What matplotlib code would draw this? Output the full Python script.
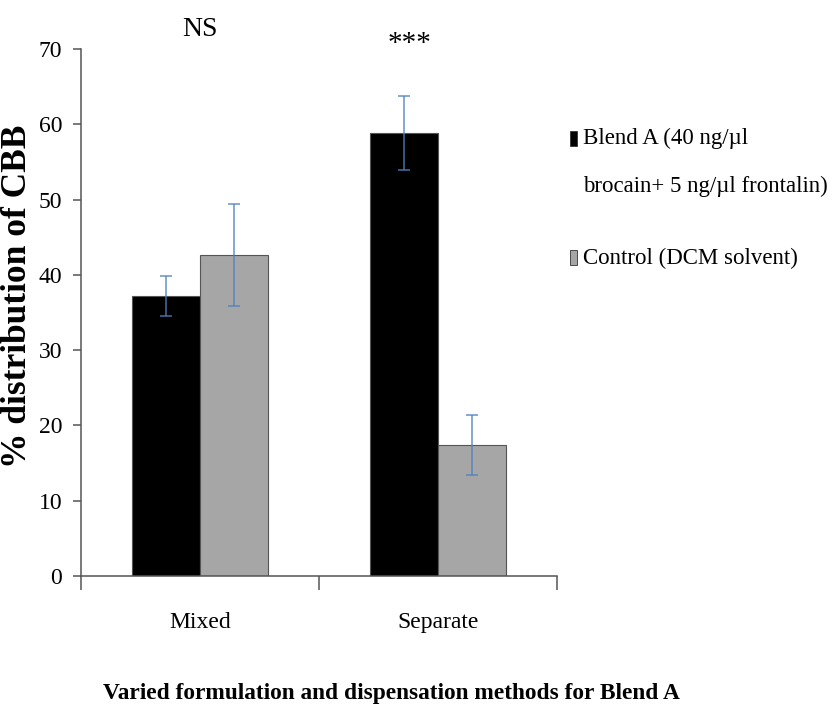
import numpy as np
import matplotlib
matplotlib.use('Agg')
import matplotlib.pyplot as plt
from matplotlib.patches import Rectangle

# CBB distribution per formulation / dispensation method
methods = ['Mixed', 'Separate']
blend_a = [37.2, 58.8]
blend_a_err = [2.6, 4.9]
control = [42.6, 17.4]
control_err = [6.8, 4.0]
signif = ['NS', '***']
yticks = [0, 10, 20, 30, 40, 50, 60, 70]

plt.rcParams['font.family'] = ['Liberation Serif', 'DejaVu Serif']

W, H = 835, 713
fig = plt.figure(figsize=(W / 100, H / 100), dpi=100)
ax = fig.add_axes([81 / W, 1 - 576 / H, (557 - 81) / W, (576 - 49) / H])

x = np.arange(len(methods))
bw = 0.284
edge = '#555555'
ax.bar(x - bw / 2, blend_a, bw, color='black', edgecolor=edge, linewidth=0.8, zorder=2)
ax.bar(x + bw / 2, control, bw, color='#a6a6a6', edgecolor=edge, linewidth=0.8, zorder=2)

# error bars
eb = dict(fmt='none', ecolor='#4f81bd', alpha=0.8, elinewidth=1.2,
          capsize=4.5, capthick=1.2, zorder=3)
ax.errorbar(x - bw / 2, blend_a, yerr=blend_a_err, **eb)
ax.errorbar(x + bw / 2, control, yerr=control_err, **eb)

ax.set_xlim(-0.5, 1.5)
ax.set_ylim(0, 70)
ax.set_yticks(yticks)

# category labels in the middle, tick marks at the boundaries
ax.set_xticks(x)
ax.set_xticklabels(methods, fontsize=17)
ax.set_xticks([-0.5, 0.5, 1.5], minor=True)
ax.tick_params(axis='x', which='major', length=0, pad=26)
ax.tick_params(axis='x', which='minor', length=10, width=1.1, color=edge)
ax.tick_params(axis='y', length=5.5, width=1.1, color=edge, labelsize=17, pad=8)

for s in ['top', 'right']:
    ax.spines[s].set_visible(False)
for s in ['left', 'bottom']:
    ax.spines[s].set_color(edge)
    ax.spines[s].set_linewidth(1.1)

# significance marks above each group
ax.text(0.0, 72.6, signif[0], ha='center', va='center', fontsize=20, clip_on=False)
ax.text(0.88, 69.8, signif[1], ha='center', va='baseline', fontsize=21, clip_on=False)

fig.text(18 / W, 1 - 296 / H, '% distribution of CBB', rotation=90,
         ha='center', va='center', fontsize=25.5, fontweight='bold')
fig.text(391 / W, 1 - 693 / H, 'Varied formulation and dispensation methods for Blend A',
         ha='center', va='center', fontsize=16.8, fontweight='bold')

# legend drawn by hand so the key sits beside the first line
def key(yc, color):
    fig.add_artist(Rectangle((570 / W, 1 - (yc + 7.5) / H), 7 / W, 15 / H,
                             transform=fig.transFigure, facecolor=color,
                             edgecolor='#333333', linewidth=0.6))

key(138, 'black')
key(257, '#a6a6a6')
fig.text(583 / W, 1 - 138 / H, 'Blend A (40 ng/\u00b5l', ha='left', va='center', fontsize=16.5)
fig.text(583 / W, 1 - 186 / H, 'brocain+ 5 ng/\u00b5l frontalin)', ha='left', va='center', fontsize=16.5)
fig.text(583 / W, 1 - 258 / H, 'Control (DCM solvent)', ha='left', va='center', fontsize=16.5)

fig.savefig('out.png', dpi=100)
